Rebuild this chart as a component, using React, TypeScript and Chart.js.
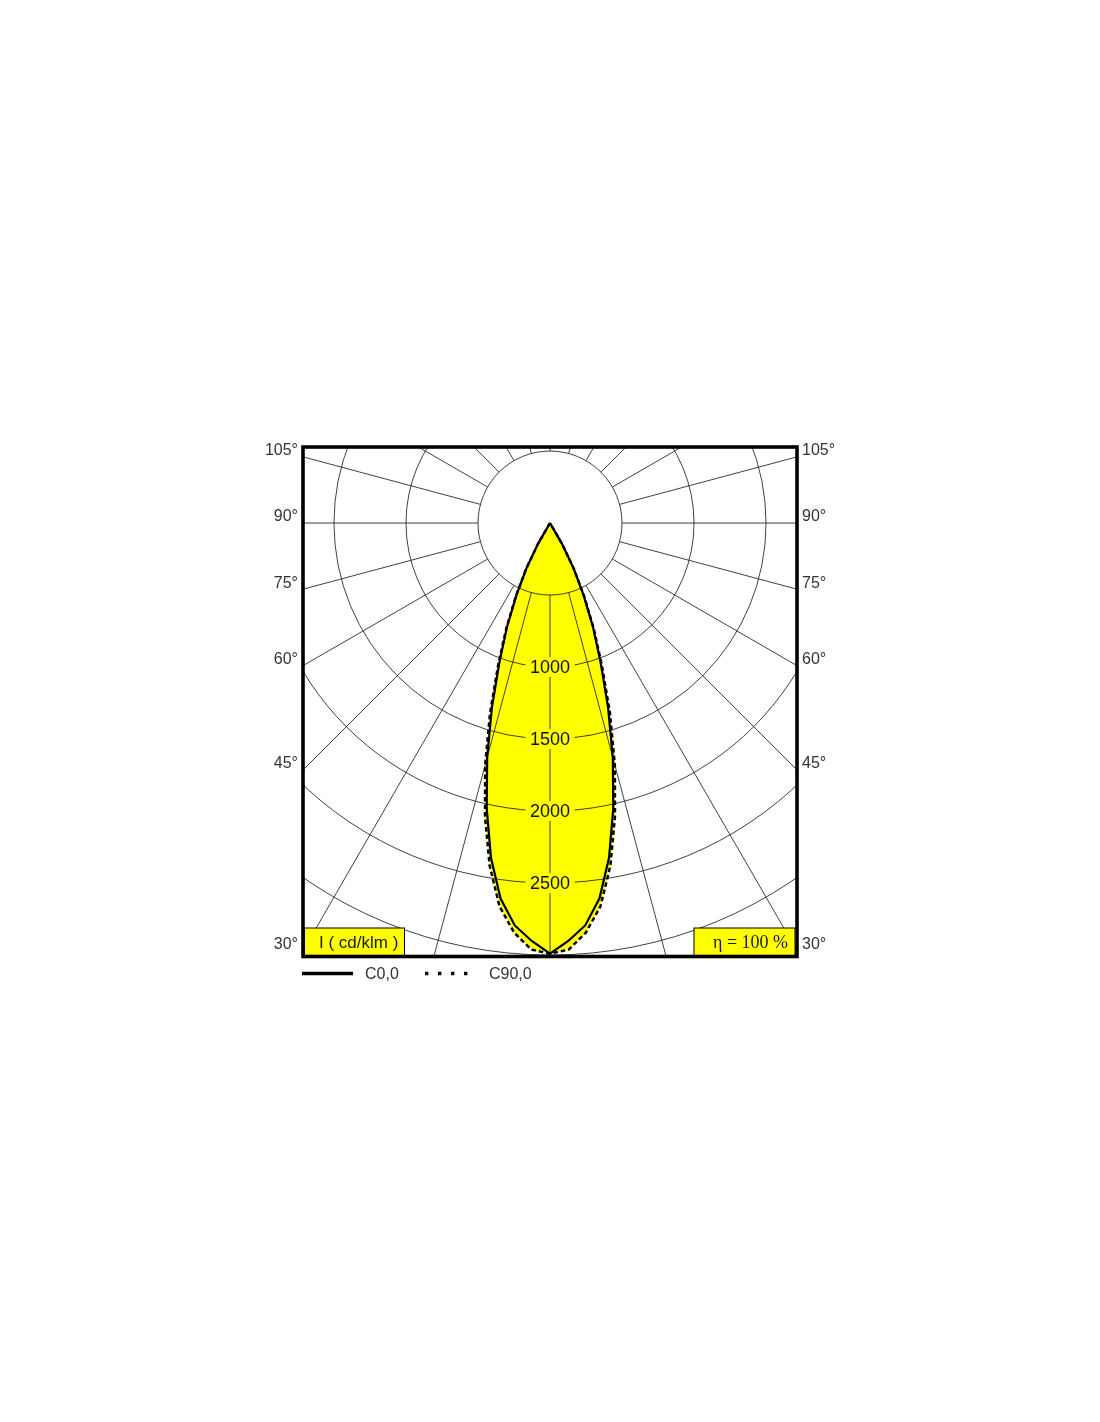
import React, { useEffect, useRef } from "react";
import { Chart, registerables } from "chart.js";

Chart.register(...registerables);

// ---- data (cd/klm), gamma angles measured from nadir ----
const GAMMA_DEG = [0, 2.5, 5, 7.5, 10, 12.5, 15, 17.5, 20, 22.5, 25, 27.5, 30, 32.5, 35];
const C0_VALUES = [2990, 2905, 2805, 2630, 2360, 2030, 1685, 1340, 1025, 778, 550, 355, 165, 0, 0];
const C90_VALUES = [2990, 2965, 2855, 2685, 2415, 2085, 1740, 1385, 1055, 795, 562, 360, 168, 0, 0];
const SERIES_LABELS = ["C0,0", "C90,0"];

// ---- polar grid ----
const RING_VALUES = [500, 1000, 1500, 2000, 2500, 3000];
const RING_LABEL_VALUES = [1000, 1500, 2000, 2500];
const RADIAL_ANGLES = [0, 15, 30, 45, 60, 75, 90, 105, 120, 135, 150, 165, 180];
const SIDE_ANGLE_LABELS = [105, 90, 75, 60, 45, 30];
const UNIT_LABEL = "I ( cd/klm )";
const EFFICIENCY_LABEL = "η = 100 %";

// ---- visible window (cd/klm units) ----
const X_LIMIT = 1715;
const Y_MIN = -3010;
const Y_MAX = 528;

const FILL = "#ffff00";
const GRID = "#2b2b2b";
const SANS = "'Liberation Sans', Arial, sans-serif";
const SERIF = "'Liberation Serif', 'Times New Roman', serif";

const rad = (d: number) => (d * Math.PI) / 180;

function toXY(gamma: number, intensity: number, side: number) {
  return { x: side * intensity * Math.sin(rad(gamma)), y: -intensity * Math.cos(rad(gamma)) };
}

function curve(values: number[]) {
  const pts: { x: number; y: number }[] = [];
  for (let i = GAMMA_DEG.length - 1; i >= 0; i--) pts.push(toXY(GAMMA_DEG[i], values[i], -1));
  for (let i = 1; i < GAMMA_DEG.length; i++) pts.push(toXY(GAMMA_DEG[i], values[i], 1));
  return pts;
}

// y value where a radial line at angle a meets the left/right frame side
const sideTickValue = (a: number) => (-X_LIMIT * Math.cos(rad(a))) / Math.sin(rad(a));

const polarPlugin = {
  id: "polarDiagram",
  beforeDatasetsDraw(chart: any) {
    const { ctx, chartArea: ca, scales } = chart;
    const xs = scales.x;
    const ys = scales.y;
    const cx = xs.getPixelForValue(0);
    const cy = ys.getPixelForValue(0);
    ctx.save();
    ctx.beginPath();
    ctx.rect(ca.left, ca.top, ca.right - ca.left, ca.bottom - ca.top);
    ctx.clip();
    ctx.strokeStyle = GRID;
    ctx.lineWidth = 0.9;
    for (const v of RING_VALUES) {
      const rx = Math.abs(xs.getPixelForValue(v) - cx);
      const ry = Math.abs(ys.getPixelForValue(-v) - cy);
      ctx.beginPath();
      ctx.ellipse(cx, cy, rx, ry, 0, 0, Math.PI * 2);
      ctx.stroke();
    }
    const r0 = RING_VALUES[0];
    const r1 = RING_VALUES[RING_VALUES.length - 1] * 2;
    for (const a of RADIAL_ANGLES) {
      const sides = a === 0 || a === 180 ? [1] : [-1, 1];
      for (const s of sides) {
        const p0 = toXY(a, r0, s);
        const p1 = toXY(a, r1, s);
        ctx.beginPath();
        ctx.moveTo(xs.getPixelForValue(p0.x), ys.getPixelForValue(p0.y));
        ctx.lineTo(xs.getPixelForValue(p1.x), ys.getPixelForValue(p1.y));
        ctx.stroke();
      }
    }
    ctx.restore();
  },
  afterDatasetsDraw(chart: any) {
    const { ctx, scales } = chart;
    const xs = scales.x;
    const ys = scales.y;
    ctx.save();
    ctx.font = `18px ${SANS}`;
    ctx.textAlign = "center";
    ctx.textBaseline = "middle";
    for (const v of RING_LABEL_VALUES) {
      const px = xs.getPixelForValue(0);
      const py = ys.getPixelForValue(-v);
      const txt = String(v);
      const w = ctx.measureText(txt).width + 9;
      ctx.fillStyle = FILL;
      ctx.fillRect(px - w / 2, py - 10, w, 20);
      ctx.fillStyle = "#111";
      ctx.fillText(txt, px, py + 1);
    }
    ctx.restore();
  },
  afterDraw(chart: any) {
    const { ctx, chartArea: ca } = chart;
    ctx.save();
    // unit / efficiency boxes
    ctx.fillStyle = FILL;
    ctx.strokeStyle = "#000";
    ctx.lineWidth = 1;
    ctx.fillRect(ca.left + 1.5, ca.bottom - 28.5, 100, 28.5);
    ctx.strokeRect(ca.left + 1.5, ca.bottom - 28.5, 100, 28.5);
    ctx.fillRect(ca.right - 103, ca.bottom - 28.5, 101, 28.5);
    ctx.strokeRect(ca.right - 103, ca.bottom - 28.5, 101, 28.5);
    ctx.fillStyle = "#1a1a1a";
    ctx.textBaseline = "middle";
    ctx.textAlign = "left";
    ctx.font = `17px ${SANS}`;
    ctx.fillText(UNIT_LABEL, ca.left + 16, ca.bottom - 13.5);
    ctx.font = `18px ${SERIF}`;
    ctx.fillText(EFFICIENCY_LABEL, ca.right - 84, ca.bottom - 13.5);
    // frame
    ctx.strokeStyle = "#000";
    ctx.lineWidth = 3.6;
    ctx.strokeRect(ca.left, ca.top, ca.right - ca.left, ca.bottom - ca.top);
    // legend
    const ly = ca.bottom + 17;
    const ds = chart.data.datasets;
    ctx.lineWidth = 3.3;
    ctx.lineCap = "butt";
    ctx.setLineDash([]);
    ctx.beginPath();
    ctx.moveTo(ca.left - 1, ly);
    ctx.lineTo(ca.left + 50, ly);
    ctx.stroke();
    ctx.setLineDash([3.4, 9.6]);
    ctx.beginPath();
    ctx.moveTo(ca.left + 122, ly);
    ctx.lineTo(ca.left + 172, ly);
    ctx.stroke();
    ctx.setLineDash([]);
    ctx.fillStyle = "#333";
    ctx.font = `16px ${SANS}`;
    ctx.textAlign = "left";
    ctx.fillText(ds[0].label, ca.left + 62, ly + 1);
    ctx.fillText(ds[1].label, ca.left + 186, ly + 1);
    ctx.restore();
  },
};

function sideAxis(position: "left" | "right") {
  return {
    type: "linear" as const,
    position,
    min: Y_MIN,
    max: Y_MAX,
    grid: { display: false, drawTicks: false },
    border: { display: false },
    afterBuildTicks: (scale: any) => {
      scale.ticks = SIDE_ANGLE_LABELS.map((a) => ({ value: sideTickValue(a) }));
    },
    afterFit: (scale: any) => {
      scale.width = 60;
    },
    ticks: {
      autoSkip: false,
      padding: 5,
      labelOffset: -6,
      color: "#333",
      font: { family: SANS, size: 16 },
      callback: (_v: any, i: number) => `${SIDE_ANGLE_LABELS[i]}°`,
    },
  };
}

export default function App() {
  const ref = useRef<HTMLCanvasElement | null>(null);
  useEffect(() => {
    if (!ref.current) return;
    const chart = new Chart(ref.current, {
      type: "line",
      data: {
        datasets: [
          {
            label: SERIES_LABELS[0],
            data: curve(C0_VALUES),
            borderColor: "#000",
            borderWidth: 2.2,
            backgroundColor: FILL,
            fill: "shape",
            pointRadius: 0,
            tension: 0,
          },
          {
            label: SERIES_LABELS[1],
            data: curve(C90_VALUES),
            borderColor: "#000",
            borderWidth: 2.5,
            borderDash: [4.5, 3],
            backgroundColor: FILL,
            fill: "shape",
            pointRadius: 0,
            tension: 0,
          },
        ],
      },
      options: {
        animation: false,
        responsive: true,
        maintainAspectRatio: false,
        layout: { padding: { left: 235, right: 235, top: 439, bottom: 151.5 } },
        plugins: {
          legend: { display: false },
          tooltip: { enabled: false },
          filler: { drawTime: "beforeDraw" },
        },
        scales: {
          x: { type: "linear", min: -X_LIMIT, max: X_LIMIT, display: false },
          y: sideAxis("left"),
          y2: sideAxis("right"),
        },
      } as any,
      plugins: [polarPlugin],
    });
    return () => chart.destroy();
  }, []);
  return (
    <div style={{ position: "relative", width: 1084, height: 1100 }}>
      <canvas ref={ref} />
    </div>
  );
}
